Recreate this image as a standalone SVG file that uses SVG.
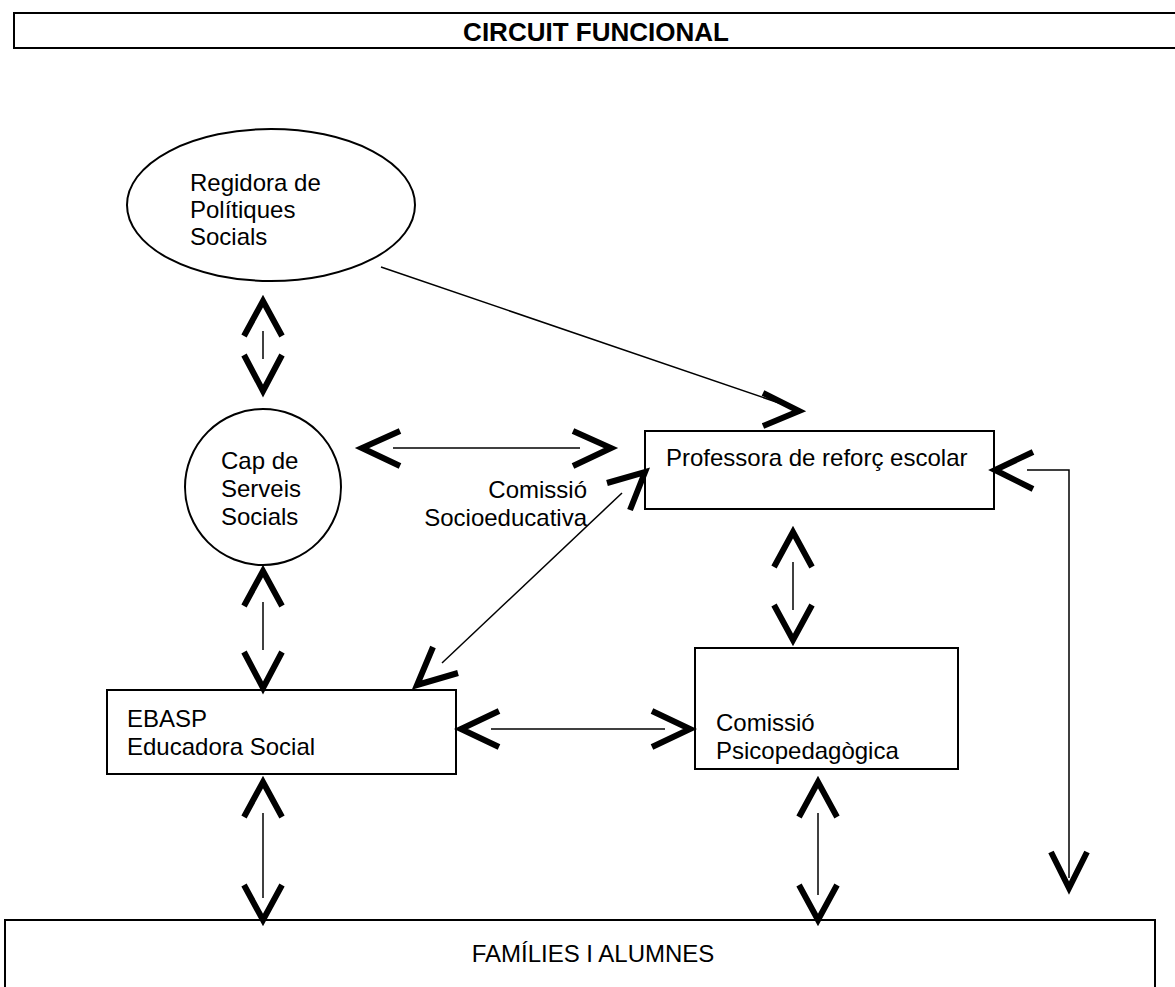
<svg xmlns="http://www.w3.org/2000/svg" width="1175" height="987" viewBox="0 0 1175 987">
<style>
.box{fill:#fff;stroke:#000;stroke-width:2}
.t{font-family:"Liberation Sans",Arial,sans-serif;font-size:24px;fill:#000}
.title{font-family:"Liberation Sans",Arial,sans-serif;font-size:26px;font-weight:bold;fill:#000}
.head{fill:none;stroke:#000;stroke-width:6;stroke-linejoin:miter;stroke-miterlimit:10}
.shaft{fill:none;stroke:#000;stroke-width:1.5}
</style>
<rect width="1175" height="987" fill="#fff"/>
<g id="title">
<rect class="box" x="14" y="13" width="1200" height="35"/>
<text class="title" x="596" y="41" text-anchor="middle">CIRCUIT FUNCIONAL</text>
</g>
<g id="regidora">
<ellipse class="box" cx="271" cy="205" rx="144" ry="76"/>
<text class="t" x="190" y="191">Regidora de</text>
<text class="t" x="190" y="218">Polítiques</text>
<text class="t" x="190" y="245">Socials</text>
</g>
<g id="cap">
<circle class="box" cx="263" cy="487" r="78"/>
<text class="t" x="221" y="469">Cap de</text>
<text class="t" x="221" y="497">Serveis</text>
<text class="t" x="221" y="525">Socials</text>
</g>
<g id="professora">
<rect class="box" x="645" y="431" width="349" height="78"/>
<text class="t" x="666" y="466">Professora de reforç escolar</text>
</g>
<g id="ebasp">
<rect class="box" x="107" y="690" width="349" height="84"/>
<text class="t" x="127" y="727">EBASP</text>
<text class="t" x="127" y="755">Educadora Social</text>
</g>
<g id="psico">
<rect class="box" x="695" y="648" width="263" height="121"/>
<text class="t" x="716" y="731">Comissió</text>
<text class="t" x="716" y="759">Psicopedagògica</text>
</g>
<g id="families">
<rect class="box" x="5" y="920" width="1150" height="100"/>
<text class="t" x="593" y="962" text-anchor="middle">FAMÍLIES I ALUMNES</text>
</g>
<g id="label-socio">
<text class="t" x="587" y="498" text-anchor="end">Comissió</text>
<text class="t" x="587" y="526" text-anchor="end">Socioeducativa</text>
</g>
<g id="connectors">
<!-- Regidora - Cap -->
<polyline class="head" points="244,336 263,301 282,336"/>
<line class="shaft" x1="263" y1="331" x2="263" y2="359"/>
<polyline class="head" points="244,355 263,391 282,355"/>
<!-- Cap - EBASP -->
<polyline class="head" points="244,606 263,571 282,606"/>
<line class="shaft" x1="263" y1="602" x2="263" y2="650"/>
<polyline class="head" points="244,652 263,688 282,652"/>
<!-- EBASP - Families -->
<polyline class="head" points="244,817 263,782 282,817"/>
<line class="shaft" x1="263" y1="813" x2="263" y2="898"/>
<polyline class="head" points="244,885 263,920 282,885"/>
<!-- Cap - Professora -->
<polyline class="head" points="400,431 362,448 400,466"/>
<line class="shaft" x1="393" y1="448" x2="580" y2="448"/>
<polyline class="head" points="573,431 611,448 573,466"/>
<!-- EBASP - Psico -->
<polyline class="head" points="499,711 461,729 499,747"/>
<line class="shaft" x1="491" y1="729" x2="665" y2="729"/>
<polyline class="head" points="652,711 690,729 652,747"/>
<!-- Professora - Psico -->
<polyline class="head" points="774,567 793,532 812,567"/>
<line class="shaft" x1="793" y1="562" x2="793" y2="610"/>
<polyline class="head" points="774,605 793,640 812,605"/>
<!-- Psico - Families -->
<polyline class="head" points="799,817 818,782 837,817"/>
<line class="shaft" x1="818" y1="813" x2="818" y2="895"/>
<polyline class="head" points="799,885 818,920 837,885"/>
<!-- Regidora -> Professora -->
<line class="shaft" x1="381" y1="267" x2="785" y2="405"/>
<polyline class="head" points="763,393 799,411 763,426"/>
<!-- Professora - EBASP diagonal -->
<line class="shaft" x1="622" y1="493" x2="442" y2="663"/>
<polyline class="head" points="607,483 645,472 630,510"/>
<polyline class="head" points="433,647 417,685 458,673"/>
<!-- Families -> Professora loop -->
<polyline class="head" points="1033,452 995,470 1033,489"/>
<polyline class="shaft" points="1027,470 1069,470 1069,878"/>
<polyline class="head" points="1051,852 1069,888 1087,852"/>
</g>
</svg>
